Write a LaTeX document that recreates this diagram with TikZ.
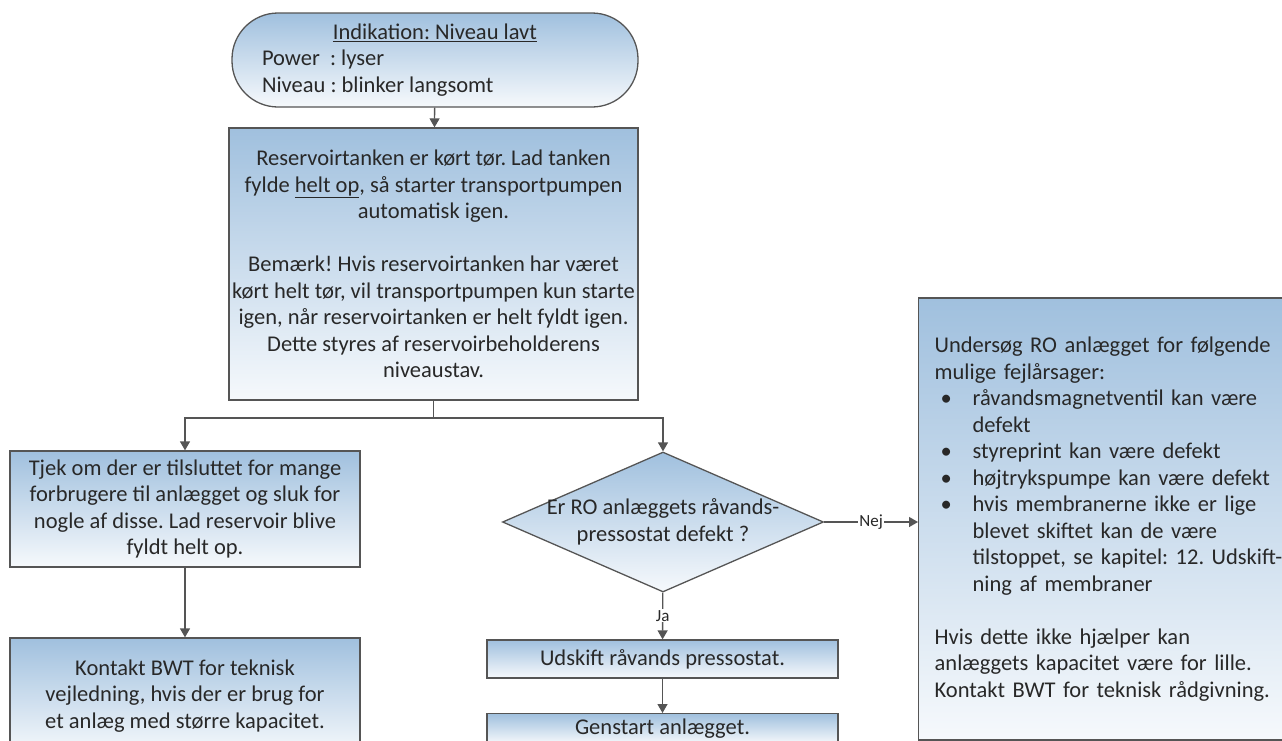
\documentclass[tikz,border=0pt]{standalone}
\usepackage{fontspec}
\setmainfont{Carlito}
\usetikzlibrary{shapes.geometric,arrows.meta}
\definecolor{boxtop}{RGB}{160,192,222}
\definecolor{boxbot}{RGB}{246,249,252}
\definecolor{edge}{RGB}{85,85,85}
\definecolor{ink}{RGB}{40,40,40}
\newcommand{\bul}{\makebox[38pt][l]{\hspace{6pt}•}}
\newcommand{\ind}{\hspace*{38pt}}
\frenchspacing
\begin{document}
\begin{tikzpicture}[x=1pt,y=-1pt,font=\fontsize{22.5}{26.5}\selectfont,text=ink,
  box/.style={draw=edge, line width=1.3pt, shape=rectangle, top color=boxtop, bottom color=boxbot, align=center, inner sep=0pt},
  arr/.style={draw=edge, line width=1.3pt, -{Triangle[width=10pt,length=9pt]}},
  lbl/.style={fill=white, inner sep=1pt, font=\fontsize{17}{19}\selectfont}]
\clip (0,0) rectangle (1282,740);
\draw (435,60) node[box, rounded corners=46pt, minimum width=406pt, minimum height=94pt, align=left] (start) {\makebox[346pt]{\underline{Indikation: Niveau lavt}}\\Power\ \ : lyser\\Niveau : blinker langsomt};
\draw (433.5,264) node[box, minimum width=409pt, minimum height=272pt] (main) {Reservoirtanken er kørt tør. Lad tanken\\fylde \underline{helt op}, så starter transportpumpen\\automatisk igen.\\[26.5pt]Bemærk! Hvis reservoirtanken har været\\kørt helt tør, vil transportpumpen kun starte\\igen, når reservoirtanken er helt fyldt igen.\\Dette styres af reservoirbeholderens\\niveaustav.};
\draw (185,509) node[box, minimum width=350pt, minimum height=116pt] (check) {Tjek om der er tilsluttet for mange\\forbrugere til anlægget og sluk for\\nogle af disse. Lad reservoir blive\\fyldt helt op.};
\draw (185,696) node[box, minimum width=350pt, minimum height=116pt] (contact) {Kontakt BWT for teknisk\\vejledning, hvis der er brug for\\et anlæg med større kapacitet.};
\draw (663,522) node[box, shape=diamond, minimum width=321pt, minimum height=140pt, label={[align=center]center:{Er RO anlæggets råvands-\\pressostat defekt ?}}] (quest) {};
\draw (918,519) node[box, anchor=west, minimum height=442pt, text width=350pt, inner xsep=16pt, align=left] (causes) {Undersøg RO anlægget for følgende\\mulige fejlårsager:\\\bul råvandsmagnetventil kan være\\\ind defekt\\\bul styreprint kan være defekt\\\bul højtrykspumpe kan være defekt\\\bul hvis membranerne ikke er lige\\\ind blevet skiftet kan de være\\\ind tilstoppet, se kapitel: 12. Udskift-\\\ind ning af membraner\\[26.5pt]Hvis dette ikke hjælper kan\\anlæggets kapacitet være for lille.\\Kontakt BWT for teknisk rådgivning.};
\draw (662.5,659) node[box, minimum width=351pt, minimum height=38pt] (replace) {Udskift råvands pressostat.};
\draw (662.5,713) node[box, anchor=north, minimum width=351pt, minimum height=30pt] (restart) {Genstart anlægget.};
\coordinate (split) at (433.5,418);
\draw[arr] (start) -- (main);
\draw[draw=edge, line width=1.3pt] (main) -- (split);
\draw[arr] (split) -| (check);
\draw[arr] (split) -| (quest);
\draw[arr] (check) -- (contact);
\draw[arr] (quest) -- node[lbl] {Nej} (causes.west |- quest.east);
\draw[arr] (quest) -- node[lbl] {Ja} (replace);
\draw[arr] (replace) -- (restart);
\end{tikzpicture}
\end{document}
